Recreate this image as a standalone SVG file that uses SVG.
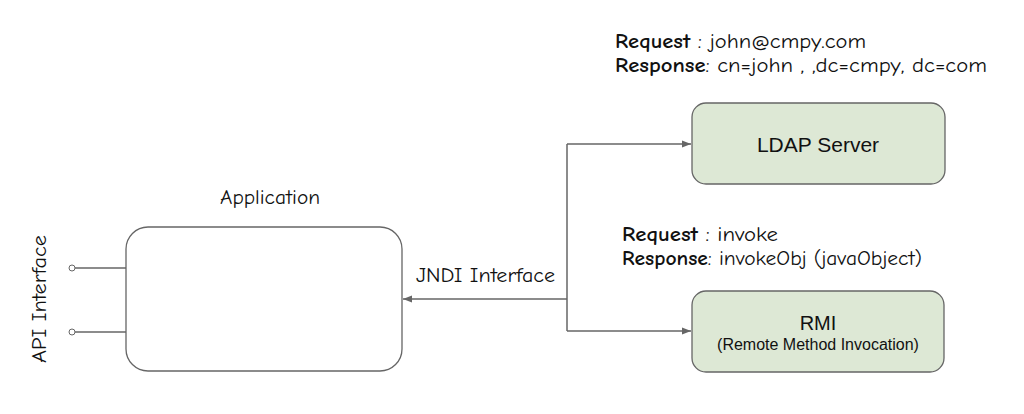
<svg xmlns="http://www.w3.org/2000/svg" width="1024" height="414" viewBox="0 0 1024 414">
<style>
.hand{font-family:"Comic Neue","Liberation Sans","DejaVu Sans",sans-serif;fill:#111;}
.box{fill:#dde8d5;stroke:#666;stroke-width:1.3;}
.app{fill:#fff;stroke:#666;stroke-width:1.3;}
.conn{fill:none;stroke:#666;stroke-width:1.5;}
.sans{font-family:"Liberation Sans",Arial,sans-serif;fill:#111;text-anchor:middle;}
</style>
<defs>
<marker id="arr" viewBox="0 0 10 10" refX="10" refY="5" markerWidth="9" markerHeight="9" markerUnits="userSpaceOnUse" orient="auto">
<path d="M0,1 L10,5 L0,9 Z" fill="#666"/>
</marker>
</defs>
<rect width="1024" height="414" fill="#fff"/>
<g id="connectors">
<line class="conn" x1="567" y1="144" x2="567" y2="331"/>
<line class="conn" x1="567" y1="144" x2="691" y2="144" marker-end="url(#arr)"/>
<line class="conn" x1="567" y1="331" x2="691" y2="331" marker-end="url(#arr)"/>
<line class="conn" x1="567" y1="299" x2="403" y2="299" marker-end="url(#arr)"/>
<line class="conn" x1="75" y1="268" x2="126" y2="268"/>
<line class="conn" x1="75" y1="332" x2="126" y2="332"/>
<circle cx="72" cy="268" r="3" fill="#fff" stroke="#666" stroke-width="1"/>
<circle cx="72" cy="332" r="3" fill="#fff" stroke="#666" stroke-width="1"/>
<text class="hand" x="416" y="282" font-size="20" textLength="139" lengthAdjust="spacingAndGlyphs">JNDI Interface</text>
</g>
<g id="application">
<rect class="app" x="126" y="227" width="276" height="144" rx="22"/>
<text class="hand" x="220" y="204" font-size="20" textLength="100" lengthAdjust="spacingAndGlyphs">Application</text>
</g>
<g id="api-interface">
<text class="hand" x="0" y="0" font-size="20" textLength="128" lengthAdjust="spacingAndGlyphs" transform="translate(46,363) rotate(-90)">API Interface</text>
</g>
<g id="ldap">
<rect class="box" x="692" y="103" width="253" height="81" rx="14"/>
<text class="sans" x="818" y="152" font-size="21">LDAP Server</text>
</g>
<g id="rmi">
<rect class="box" x="692" y="291" width="252" height="81" rx="14"/>
<text class="sans" x="818" y="330" font-size="20">RMI</text>
<text class="sans" x="818" y="350" font-size="16">(Remote Method Invocation)</text>
</g>
<g id="ldap-label">
<text class="hand" x="615" y="48" font-size="21" textLength="251" lengthAdjust="spacingAndGlyphs"><tspan font-weight="bold">Request</tspan> : john@cmpy.com</text>
<text class="hand" x="615" y="72" font-size="21" textLength="372" lengthAdjust="spacingAndGlyphs"><tspan font-weight="bold">Response</tspan>: cn=john , ,dc=cmpy, dc=com</text>
</g>
<g id="rmi-label">
<text class="hand" x="622" y="241" font-size="21" textLength="156" lengthAdjust="spacingAndGlyphs"><tspan font-weight="bold">Request</tspan> : invoke</text>
<text class="hand" x="622" y="265" font-size="21" textLength="300" lengthAdjust="spacingAndGlyphs"><tspan font-weight="bold">Response</tspan>: invokeObj (javaObject)</text>
</g>
</svg>
